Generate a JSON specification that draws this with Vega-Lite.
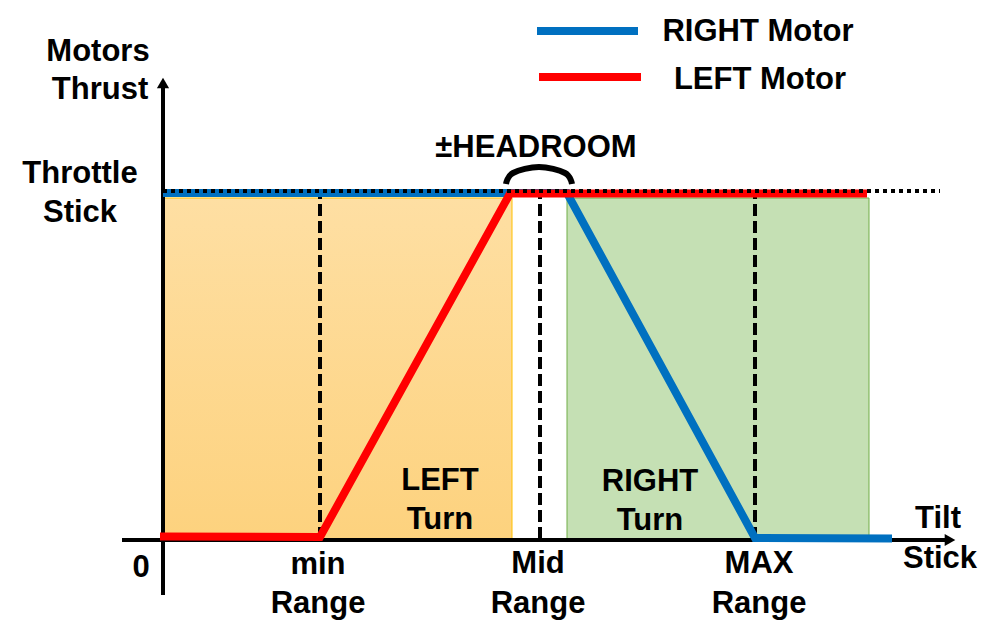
{
  "$schema": "https://vega.github.io/schema/vega-lite/v6.json",
  "width": 999,
  "height": 639,
  "padding": 0,
  "autosize": {"type": "none"},
  "background": "white",
  "config": {"view": {"stroke": null}},
  "datasets": {
    "zones": [
      {"zone": "LEFT Turn", "x": 0, "x2": 349, "y": 1, "y2": 342},
      {"zone": "RIGHT Turn", "x": 404, "x2": 706, "y": 1, "y2": 342}
    ],
    "guides": [
      {"mark": "min Range", "x": 157, "y": 1, "y2": 346},
      {"mark": "Mid Range", "x": 377, "y": 1, "y2": 346},
      {"mark": "MAX Range", "x": 592, "y": 1, "y2": 346}
    ],
    "axes": [
      {"axis": "Motors Thrust", "x": 0, "x2": 0, "y": -55, "y2": 455},
      {"axis": "Tilt Stick", "x": -41, "x2": 785, "y": 0, "y2": 0}
    ],
    "arrows": [
      {"axis": "Motors Thrust", "x": 0, "y": 457, "shape": "triangle-up"},
      {"axis": "Tilt Stick", "x": 787, "y": 0, "shape": "triangle-right"}
    ],
    "motors": [
      {"motor": "RIGHT Motor", "order": 1, "x": 0, "y": 347},
      {"motor": "RIGHT Motor", "order": 2, "x": 404, "y": 347},
      {"motor": "RIGHT Motor", "order": 3, "x": 592, "y": 2},
      {"motor": "RIGHT Motor", "order": 4, "x": 729, "y": 1.5},
      {"motor": "LEFT Motor", "order": 1, "x": -3, "y": 3.5},
      {"motor": "LEFT Motor", "order": 2, "x": 157, "y": 3},
      {"motor": "LEFT Motor", "order": 3, "x": 347, "y": 346.5},
      {"motor": "LEFT Motor", "order": 4, "x": 704, "y": 346.5}
    ],
    "throttle": [
      {"level": "Throttle Stick", "x": 0, "x2": 777, "y": 349}
    ],
    "headroom": [
      {"order": 1, "x": 343, "y": 356},
      {"order": 2, "x": 350, "y": 367},
      {"order": 3, "x": 376, "y": 373},
      {"order": 4, "x": 402, "y": 367},
      {"order": 5, "x": 409, "y": 356}
    ],
    "legend": [
      {"motor": "RIGHT Motor", "x": 374, "x2": 475, "y": 509},
      {"motor": "LEFT Motor", "x": 376, "x2": 478, "y": 463}
    ],
    "labels": [
      {"text": "Motors", "x": -65, "y": 479},
      {"text": "Thrust", "x": -63, "y": 441},
      {"text": "Throttle", "x": -83, "y": 357},
      {"text": "Stick", "x": -83, "y": 318},
      {"text": "±HEADROOM", "x": 373, "y": 383},
      {"text": "RIGHT Motor", "x": 595, "y": 499},
      {"text": "LEFT Motor", "x": 597, "y": 451},
      {"text": "0", "x": -22, "y": -37},
      {"text": "min", "x": 155, "y": -34},
      {"text": "Range", "x": 155, "y": -73},
      {"text": "Mid", "x": 375, "y": -33},
      {"text": "Range", "x": 375, "y": -73},
      {"text": "MAX", "x": 596, "y": -33},
      {"text": "Range", "x": 596, "y": -73},
      {"text": "Tilt", "x": 775, "y": 12},
      {"text": "Stick", "x": 777, "y": -28},
      {"text": "LEFT", "x": 277, "y": 50},
      {"text": "Turn", "x": 277, "y": 11},
      {"text": "RIGHT", "x": 487, "y": 49},
      {"text": "Turn", "x": 487, "y": 10}
    ]
  },
  "layer": [
    {
      "data": {"name": "zones"},
      "transform": [{"filter": "datum.zone === 'LEFT Turn'"}],
      "mark": {
        "type": "rect",
        "stroke": "#FFC000",
        "strokeWidth": 1,
        "fill": {
          "gradient": "linear", "x1": 0, "y1": 0, "x2": 0, "y2": 1,
          "stops": [{"offset": 0, "color": "#FEDFA3"}, {"offset": 1, "color": "#FDD27E"}]
        }
      },
      "encoding": {
        "x": {"field": "x", "type": "quantitative", "scale": {"domain": [-163, 836], "nice": false, "zero": false}, "axis": null},
        "x2": {"field": "x2"},
        "y": {"field": "y", "type": "quantitative", "scale": {"domain": [-99, 540], "nice": false, "zero": false}, "axis": null},
        "y2": {"field": "y2"}
      }
    },
    {
      "data": {"name": "zones"},
      "transform": [{"filter": "datum.zone === 'RIGHT Turn'"}],
      "mark": {"type": "rect", "fill": "#C5E0B4", "stroke": "#70AD47", "strokeWidth": 1},
      "encoding": {
        "x": {"field": "x", "type": "quantitative", "scale": {"domain": [-163, 836], "nice": false, "zero": false}, "axis": null},
        "x2": {"field": "x2"},
        "y": {"field": "y", "type": "quantitative", "scale": {"domain": [-99, 540], "nice": false, "zero": false}, "axis": null},
        "y2": {"field": "y2"}
      }
    },
    {
      "data": {"name": "guides"},
      "mark": {"type": "rule", "color": "black", "strokeWidth": 4, "strokeDash": [12, 5]},
      "encoding": {
        "x": {"field": "x", "type": "quantitative", "scale": {"domain": [-163, 836], "nice": false, "zero": false}, "axis": null},
        "y": {"field": "y", "type": "quantitative", "scale": {"domain": [-99, 540], "nice": false, "zero": false}, "axis": null},
        "y2": {"field": "y2"}
      }
    },
    {
      "data": {"name": "axes"},
      "mark": {"type": "rule", "color": "black", "strokeWidth": 4},
      "encoding": {
        "x": {"field": "x", "type": "quantitative", "scale": {"domain": [-163, 836], "nice": false, "zero": false}, "axis": null},
        "x2": {"field": "x2"},
        "y": {"field": "y", "type": "quantitative", "scale": {"domain": [-99, 540], "nice": false, "zero": false}, "axis": null},
        "y2": {"field": "y2"}
      }
    },
    {
      "data": {"name": "arrows"},
      "mark": {"type": "point", "filled": true, "color": "black", "size": 150, "opacity": 1},
      "encoding": {
        "x": {"field": "x", "type": "quantitative", "scale": {"domain": [-163, 836], "nice": false, "zero": false}, "axis": null},
        "y": {"field": "y", "type": "quantitative", "scale": {"domain": [-99, 540], "nice": false, "zero": false}, "axis": null},
        "shape": {"field": "shape", "type": "nominal", "scale": null}
      }
    },
    {
      "data": {"name": "motors"},
      "mark": {"type": "line", "strokeWidth": 8, "strokeCap": "butt", "strokeJoin": "miter"},
      "encoding": {
        "x": {"field": "x", "type": "quantitative", "scale": {"domain": [-163, 836], "nice": false, "zero": false}, "axis": null},
        "y": {"field": "y", "type": "quantitative", "scale": {"domain": [-99, 540], "nice": false, "zero": false}, "axis": null},
        "order": {"field": "order", "type": "quantitative"},
        "color": {"field": "motor", "type": "nominal", "scale": {"domain": ["RIGHT Motor", "LEFT Motor"], "range": ["#0070C0", "#FF0000"]}, "legend": null}
      }
    },
    {
      "data": {"name": "throttle"},
      "mark": {"type": "rule", "color": "black", "strokeWidth": 4, "strokeDash": [4, 4]},
      "encoding": {
        "x": {"field": "x", "type": "quantitative", "scale": {"domain": [-163, 836], "nice": false, "zero": false}, "axis": null},
        "x2": {"field": "x2"},
        "y": {"field": "y", "type": "quantitative", "scale": {"domain": [-99, 540], "nice": false, "zero": false}, "axis": null}
      }
    },
    {
      "data": {"name": "headroom"},
      "mark": {"type": "line", "color": "black", "strokeWidth": 6, "interpolate": "cardinal", "strokeCap": "butt"},
      "encoding": {
        "x": {"field": "x", "type": "quantitative", "scale": {"domain": [-163, 836], "nice": false, "zero": false}, "axis": null},
        "y": {"field": "y", "type": "quantitative", "scale": {"domain": [-99, 540], "nice": false, "zero": false}, "axis": null},
        "order": {"field": "order", "type": "quantitative"}
      }
    },
    {
      "data": {"name": "legend"},
      "mark": {"type": "rule", "strokeWidth": 8},
      "encoding": {
        "x": {"field": "x", "type": "quantitative", "scale": {"domain": [-163, 836], "nice": false, "zero": false}, "axis": null},
        "x2": {"field": "x2"},
        "y": {"field": "y", "type": "quantitative", "scale": {"domain": [-99, 540], "nice": false, "zero": false}, "axis": null},
        "color": {"field": "motor", "type": "nominal", "scale": {"domain": ["RIGHT Motor", "LEFT Motor"], "range": ["#0070C0", "#FF0000"]}, "legend": null}
      }
    },
    {
      "data": {"name": "labels"},
      "mark": {"type": "text", "font": "Liberation Sans", "fontWeight": "bold", "fontSize": 31, "align": "center", "baseline": "alphabetic", "color": "black"},
      "encoding": {
        "x": {"field": "x", "type": "quantitative", "scale": {"domain": [-163, 836], "nice": false, "zero": false}, "axis": null},
        "y": {"field": "y", "type": "quantitative", "scale": {"domain": [-99, 540], "nice": false, "zero": false}, "axis": null},
        "text": {"field": "text", "type": "nominal"}
      }
    }
  ]
}
